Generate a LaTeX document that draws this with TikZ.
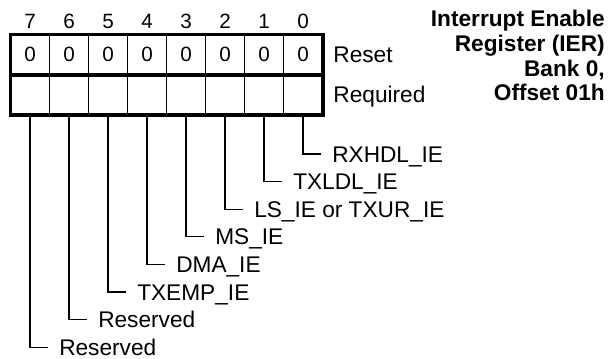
\documentclass[tikz,border=0pt]{standalone}
\usepackage{fontspec}
\setmainfont{Liberation Sans}
\usetikzlibrary{positioning}

\begin{document}
\begin{tikzpicture}[
        x=0.75pt, y=-0.75pt,
        cell/.style={minimum width=29.25pt, minimum height=30pt, inner sep=0pt, font=\fontsize{15.5}{18}\selectfont},
        bitnum/.style={inner sep=0pt, font=\fontsize{15.5}{18}\selectfont},
        frame/.style={line width=2.6pt},
        divider/.style={line width=0.75pt},
        lead/.style={line width=0.9pt},
        field/.style={anchor=west, inner xsep=8.25pt, inner ysep=0pt, text height=12pt, text depth=0pt, font=\fontsize{17}{19}\selectfont},
        side/.style={inner xsep=7.8pt, inner ysep=0pt, text height=12pt, text depth=0pt, font=\fontsize{17}{19}\selectfont},
        title/.style={anchor=north east, align=right, inner sep=0pt, font=\bfseries\fontsize{17}{18.5}\selectfont}
    ]
    \useasboundingbox (0,0) rectangle (616,358);

    % Register cells
    \foreach \b in {0,...,7} {
        \node[cell] (r\b) at ({10.5+39*(7.5-\b)}, 54.5) {0};
        \node[cell] (q\b) at ({10.5+39*(7.5-\b)}, 94.5) {};
        \node[bitnum] (n\b) at ({10.5+39*(7.5-\b)}, 21) {\b};
    }
    \draw[frame] (r7.north west) rectangle (q0.south east);
    \draw[frame] (r7.south west) -- (r0.south east);
    \foreach \b in {0,...,6}
        \draw[divider] (r\b.north west) -- (q\b.south west);

    \node[side, right=0pt of r0] (reset) {Reset};
    \node[side, right=0pt of q0] (required) {Required};

    % Title
    \node[title] (title) at (605, 10) {Interrupt Enable\\Register (IER)\\Bank 0,\\Offset 01h};

    % Bit fields
    \foreach \b/\name in {0/RXHDL\_IE, 1/TXLDL\_IE, 2/LS\_IE or TXUR\_IE, 3/MS\_IE,
                          4/DMA\_IE, 5/TXEMP\_IE, 6/Reserved, 7/Reserved} {
        \node[field] (f\b) at ({10.5+39*(7.5-\b)+18}, {154+27.6*\b}) {\name};
        \draw[lead] (q\b.south) |- (f\b.west);
    }
\end{tikzpicture}
\end{document}
